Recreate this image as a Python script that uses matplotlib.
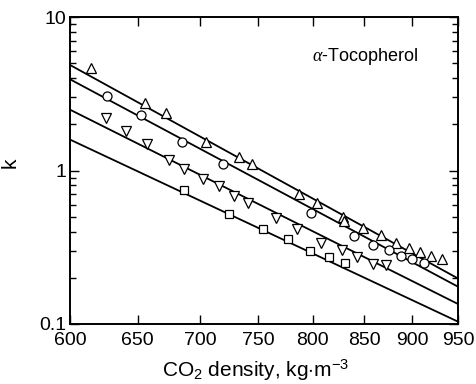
import matplotlib.pyplot as plt
from matplotlib.ticker import FixedLocator, FixedFormatter, LogLocator, NullFormatter

plt.rcParams['font.family'] = ['Liberation Sans', 'DejaVu Sans']
plt.rcParams['mathtext.fontset'] = 'custom'
plt.rcParams['mathtext.rm'] = 'Liberation Sans'
plt.rcParams['mathtext.it'] = 'Liberation Serif:italic'

# measured points (CO2 density, k)
up_x = [615, 656, 672, 705, 733, 744, 787, 804, 829, 830, 849, 867, 883, 896, 908, 920, 932]
up_k = [4.63, 2.74, 2.36, 1.54, 1.23, 1.10, 0.703, 0.617, 0.50, 0.469, 0.424, 0.380, 0.336, 0.311, 0.296, 0.277, 0.265]

circ_x = [627, 653, 685, 719, 798, 840, 859, 875, 888, 900, 912]
circ_k = [3.06, 2.30, 1.54, 1.10, 0.531, 0.374, 0.329, 0.303, 0.277, 0.264, 0.249]

down_x = [626, 641, 657, 675, 687, 702, 716, 729, 741, 766, 785, 808, 828, 843, 859, 872]
down_k = [2.19, 1.81, 1.48, 1.17, 1.03, 0.883, 0.793, 0.682, 0.617, 0.488, 0.414, 0.339, 0.303, 0.272, 0.245, 0.242]

sq_x = [687, 724, 754, 777, 797, 815, 831]
sq_k = [0.746, 0.521, 0.413, 0.358, 0.299, 0.272, 0.251]

# fitted lines, end points at 600 and 950
fit_x = [600, 950]
fit_up = [4.87, 0.198]
fit_circ = [3.93, 0.175]
fit_down = [2.49, 0.135]
fit_sq = [1.59, 0.1036]

xticks = [600, 650, 700, 750, 800, 850, 900, 950]

fig = plt.figure(figsize=(4.76, 3.84), dpi=100)
ax = fig.add_axes([70 / 476, 1 - 324 / 384, 388 / 476, 307 / 384])

for fy in (fit_up, fit_circ, fit_down, fit_sq):
    ax.plot(fit_x, fy, color='black', lw=1.3, zorder=2)

mk = dict(ls='none', mfc='white', mec='black', mew=0.9, zorder=3)
ax.plot(up_x, up_k, marker='^', ms=7.5, **mk)
ax.plot(circ_x, circ_k, marker='o', ms=6.5, **mk)
ax.plot(down_x, down_k, marker='v', ms=7.5, **mk)
ax.plot(sq_x, sq_k, marker='s', ms=6, **mk)

ax.set_xscale('log')
ax.set_yscale('log')
ax.set_xlim(600, 950)
ax.set_ylim(0.1, 10)

ax.xaxis.set_major_locator(FixedLocator(xticks))
ax.xaxis.set_major_formatter(FixedFormatter([str(v) for v in xticks]))
ax.xaxis.set_minor_locator(FixedLocator([]))
ax.xaxis.set_minor_formatter(NullFormatter())

ax.yaxis.set_major_locator(FixedLocator([0.1, 1, 10]))
ax.yaxis.set_major_formatter(FixedFormatter(['0.1', '1', '10']))
ax.yaxis.set_minor_locator(LogLocator(base=10, subs=range(2, 10)))
ax.yaxis.set_minor_formatter(NullFormatter())

ax.tick_params(which='both', direction='in', top=True, right=True, width=1.0)
ax.tick_params(which='major', length=6.5, labelsize=14)
ax.tick_params(which='minor', length=4)
ax.tick_params(axis='x', which='major', pad=6)
ax.tick_params(axis='y', which='major', pad=2.5)
for s in ax.spines.values():
    s.set_linewidth(1.4)

ax.set_xlabel('CO$_2$ density, kg$\\cdot$m$^{-3}$', fontsize=15)
ax.xaxis.set_label_coords(0.477, -0.11)
ax.set_ylabel('k', fontsize=15)
ax.yaxis.set_label_coords(-0.13, 0.524)

ax.text(0.76, 0.87, '$\\alpha$-Tocopherol', transform=ax.transAxes,
        fontsize=13, ha='center', va='center')

plt.savefig('out.png', dpi=100)
plt.close()
